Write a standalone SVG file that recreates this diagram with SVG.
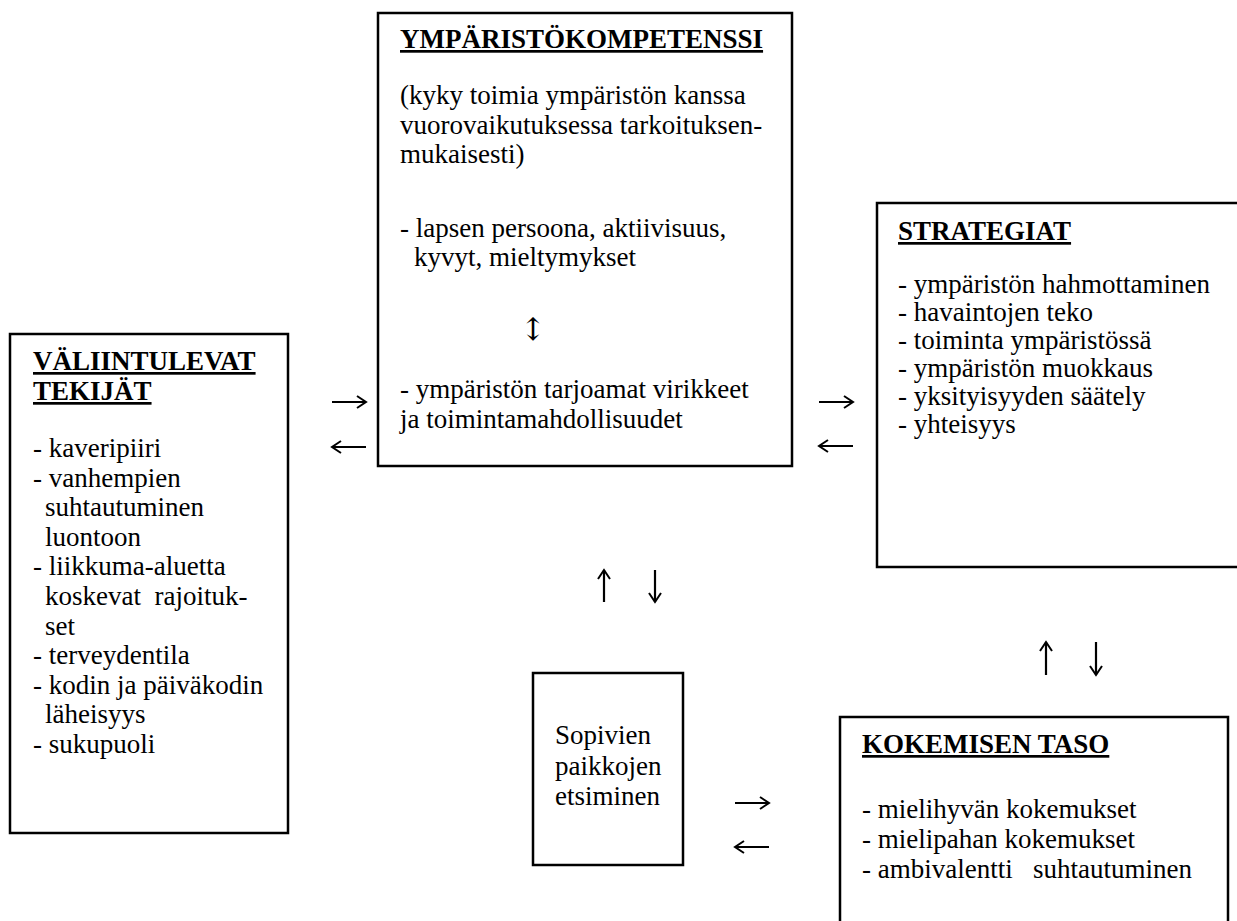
<svg xmlns="http://www.w3.org/2000/svg" width="1237" height="921" viewBox="0 0 1237 921">
<style>
  .box { fill: #ffffff; stroke: #000000; stroke-width: 2.5; }
  .t { font-family: "Liberation Serif", "Times New Roman", serif; font-size: 27px; fill: #000000; }
  .h { font-family: "Liberation Serif", "Times New Roman", serif; font-size: 27px; font-weight: bold; fill: #000000; text-decoration: underline; }
  .sym { font-family: "DejaVu Serif", "DejaVu Sans", serif; font-size: 31px; fill: #000000; }
  .arr { stroke: #000000; stroke-width: 2.2; fill: none; marker-end: url(#ah); }
</style>
<defs>
  <marker id="ah" viewBox="-12 -8 14 16" refX="0" refY="0" markerWidth="14" markerHeight="16" markerUnits="userSpaceOnUse" orient="auto">
    <path d="M-9,-6 L0,0 L-9,6" fill="none" stroke="#000000" stroke-width="2"/>
  </marker>
</defs>
<rect x="0" y="0" width="1237" height="921" fill="#ffffff"/>

<g id="valiintulevat-tekijat">
  <rect class="box" x="10" y="334" width="278" height="499"/>
  <text class="h" x="33" y="370">VÄLIINTULEVAT</text>
  <text class="h" x="33" y="400">TEKIJÄT</text>
  <text class="t" x="33" y="457">- kaveripiiri</text>
  <text class="t" x="33" y="487">- vanhempien</text>
  <text class="t" x="45" y="516">suhtautuminen</text>
  <text class="t" x="45" y="546">luontoon</text>
  <text class="t" x="33" y="575">- liikkuma-aluetta</text>
  <text class="t" x="45" y="605" xml:space="preserve">koskevat  rajoituk-</text>
  <text class="t" x="45" y="635">set</text>
  <text class="t" x="33" y="664">- terveydentila</text>
  <text class="t" x="33" y="694">- kodin ja päiväkodin</text>
  <text class="t" x="45" y="723">läheisyys</text>
  <text class="t" x="33" y="753">- sukupuoli</text>
</g>

<g id="ymparistokompetenssi">
  <rect class="box" x="378" y="13" width="414" height="453"/>
  <text class="h" x="400" y="48">YMPÄRISTÖKOMPETENSSI</text>
  <text class="t" x="400" y="104">(kyky toimia ympäristön kanssa</text>
  <text class="t" x="400" y="134">vuorovaikutuksessa tarkoituksen-</text>
  <text class="t" x="400" y="163">mukaisesti)</text>
  <text class="t" x="400" y="237">- lapsen persoona, aktiivisuus,</text>
  <text class="t" x="414" y="266">kyvyt, mieltymykset</text>
  <text class="sym" x="533" y="340" text-anchor="middle">↕</text>
  <text class="t" x="400" y="398">- ympäristön tarjoamat virikkeet</text>
  <text class="t" x="400" y="428">ja toimintamahdollisuudet</text>
</g>

<g id="strategiat">
  <rect class="box" x="877" y="203" width="380" height="364"/>
  <text class="h" x="898" y="240">STRATEGIAT</text>
  <text class="t" x="898" y="293">- ympäristön hahmottaminen</text>
  <text class="t" x="898" y="321">- havaintojen teko</text>
  <text class="t" x="898" y="349">- toiminta ympäristössä</text>
  <text class="t" x="898" y="377">- ympäristön muokkaus</text>
  <text class="t" x="898" y="405">- yksityisyyden säätely</text>
  <text class="t" x="898" y="433">- yhteisyys</text>
</g>

<g id="sopivien-paikkojen-etsiminen">
  <rect class="box" x="533" y="673" width="150" height="192"/>
  <text class="t" x="555" y="744">Sopivien</text>
  <text class="t" x="555" y="775">paikkojen</text>
  <text class="t" x="555" y="805">etsiminen</text>
</g>

<g id="kokemisen-taso">
  <rect class="box" x="840" y="717" width="388" height="230"/>
  <text class="h" x="862" y="753">KOKEMISEN TASO</text>
  <text class="t" x="862" y="818">- mielihyvän kokemukset</text>
  <text class="t" x="862" y="848">- mielipahan kokemukset</text>
  <text class="t" x="862" y="878" xml:space="preserve">- ambivalentti   suhtautuminen</text>
</g>

<g id="connectors">
  <line class="arr" x1="332" y1="402" x2="366" y2="402"/>
  <line class="arr" x1="366" y1="447" x2="332" y2="447"/>
  <line class="arr" x1="819" y1="402" x2="853" y2="402"/>
  <line class="arr" x1="853" y1="446" x2="819" y2="446"/>
  <line class="arr" x1="604" y1="602" x2="604" y2="570"/>
  <line class="arr" x1="655" y1="570" x2="655" y2="602"/>
  <line class="arr" x1="1046" y1="675" x2="1046" y2="642"/>
  <line class="arr" x1="1096" y1="642" x2="1096" y2="675"/>
  <line class="arr" x1="735" y1="803" x2="769" y2="803"/>
  <line class="arr" x1="769" y1="847" x2="735" y2="847"/>
</g>
</svg>
